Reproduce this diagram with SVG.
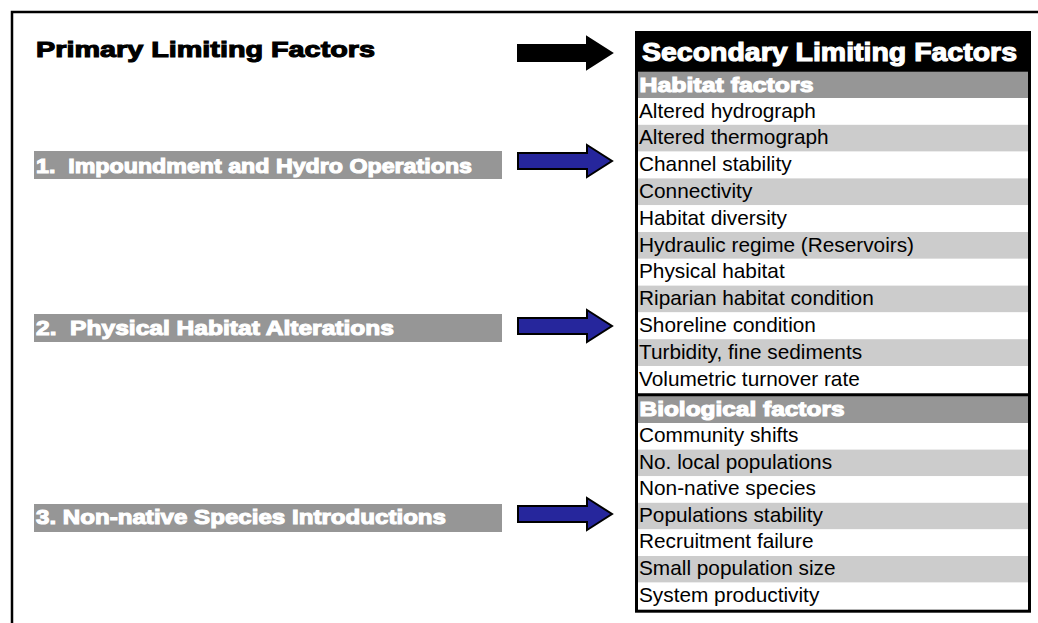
<svg xmlns="http://www.w3.org/2000/svg" width="1038" height="623" viewBox="0 0 1038 623">
<style>
.heavy{font-family:"Liberation Sans",Arial,sans-serif;font-weight:bold;}
.hw{fill:#fff;stroke:#fff;stroke-width:1.1;}
.hb{fill:#000;stroke:#000;stroke-width:1.1;}
.bar{fill:#969696;}
.row{font-family:"Liberation Sans",Arial,sans-serif;font-size:20.8px;fill:#000;}
.g{fill:#cccccc;}
.w{fill:#ffffff;}
.arrow{stroke:#000;stroke-width:2;stroke-linejoin:miter;}
</style>
<rect x="0" y="0" width="1038" height="623" fill="#fff"/>
<g id="frame"><path d="M12,623 V12 H1038" fill="none" stroke="#000" stroke-width="2.5"/></g>

<g id="primary-title"><text class="heavy hb" x="36" y="57" font-size="22.5" textLength="339" lengthAdjust="spacingAndGlyphs">Primary Limiting Factors</text></g>

<g id="primary-1"><rect class="bar" x="34" y="151" width="468" height="28"/><text class="heavy hw" x="36" y="172.5" font-size="20.5" textLength="436" lengthAdjust="spacingAndGlyphs" xml:space="preserve">1.  Impoundment and Hydro Operations</text></g>
<g id="primary-2"><rect class="bar" x="34" y="314" width="468" height="28"/><text class="heavy hw" x="36" y="334.5" font-size="20.5" textLength="358" lengthAdjust="spacingAndGlyphs" xml:space="preserve">2.  Physical Habitat Alterations</text></g>
<g id="primary-3"><rect class="bar" x="34" y="504" width="468" height="28"/><text class="heavy hw" x="36" y="524" font-size="20.5" textLength="410" lengthAdjust="spacingAndGlyphs">3. Non-native Species Introductions</text></g>

<g id="connectors">
<path class="arrow" fill="#000" d="M518,45 H587 V37 L612,53 L587,69 V61 H518 Z"/>
<path class="arrow" fill="#26269c" d="M518,153 H587 V145 L612,161 L587,177 V169 H518 Z"/>
<path class="arrow" fill="#26269c" d="M518,318 H587 V310 L612,326 L587,342 V334 H518 Z"/>
<path class="arrow" fill="#26269c" d="M518,506 H587 V498 L612,514 L587,530 V522 H518 Z"/>
</g>

<g id="secondary-table">
<rect x="635" y="31" width="396" height="41" fill="#000"/>
<text class="heavy hw" x="642" y="61" font-size="25" textLength="375" lengthAdjust="spacingAndGlyphs">Secondary Limiting Factors</text>
<g id="habitat-factors">
<rect class="bar" x="635" y="71.7" width="396" height="26.5"/>
<text class="heavy hw" x="639.5" y="92" font-size="20" textLength="174" lengthAdjust="spacingAndGlyphs">Habitat factors</text>
<rect class="w" x="635" y="98" width="396" height="26.8"/>
<rect class="g" x="635" y="124.8" width="396" height="26.8"/>
<rect class="w" x="635" y="151.6" width="396" height="26.8"/>
<rect class="g" x="635" y="178.4" width="396" height="26.8"/>
<rect class="w" x="635" y="205.2" width="396" height="26.8"/>
<rect class="g" x="635" y="232" width="396" height="26.8"/>
<rect class="w" x="635" y="258.8" width="396" height="26.8"/>
<rect class="g" x="635" y="285.6" width="396" height="26.8"/>
<rect class="w" x="635" y="312.4" width="396" height="26.8"/>
<rect class="g" x="635" y="339.2" width="396" height="26.8"/>
<rect class="w" x="635" y="366" width="396" height="28"/>
<text class="row" x="639" y="117.5">Altered hydrograph</text>
<text class="row" x="639" y="144.3">Altered thermograph</text>
<text class="row" x="639" y="171.1">Channel stability</text>
<text class="row" x="639" y="197.9">Connectivity</text>
<text class="row" x="639" y="224.7">Habitat diversity</text>
<text class="row" x="639" y="251.5">Hydraulic regime (Reservoirs)</text>
<text class="row" x="639" y="278.3">Physical habitat</text>
<text class="row" x="639" y="305.1">Riparian habitat condition</text>
<text class="row" x="639" y="331.9">Shoreline condition</text>
<text class="row" x="639" y="358.7">Turbidity, fine sediments</text>
<text class="row" x="639" y="385.5">Volumetric turnover rate</text>
</g>
<g id="biological-factors">
<rect class="bar" x="635" y="396" width="396" height="27"/>
<text class="heavy hw" x="639.5" y="416" font-size="20" textLength="205" lengthAdjust="spacingAndGlyphs">Biological factors</text>
<rect class="w" x="635" y="423" width="396" height="26.6"/>
<rect class="g" x="635" y="449.6" width="396" height="26.6"/>
<rect class="w" x="635" y="476.2" width="396" height="26.6"/>
<rect class="g" x="635" y="502.8" width="396" height="26.6"/>
<rect class="w" x="635" y="529.4" width="396" height="26.6"/>
<rect class="g" x="635" y="556" width="396" height="26.6"/>
<rect class="w" x="635" y="582.6" width="396" height="27"/>
<text class="row" x="639" y="442">Community shifts</text>
<text class="row" x="639" y="468.6">No. local populations</text>
<text class="row" x="639" y="495.2">Non-native species</text>
<text class="row" x="639" y="521.8">Populations stability</text>
<text class="row" x="639" y="548.4">Recruitment failure</text>
<text class="row" x="639" y="575">Small population size</text>
<text class="row" x="639" y="601.6">System productivity</text>
</g>
<rect x="636.5" y="32.5" width="393" height="578.7" fill="none" stroke="#000" stroke-width="3"/>
<line x1="635" y1="394.7" x2="1031" y2="394.7" stroke="#000" stroke-width="3"/>
</g>
</svg>
